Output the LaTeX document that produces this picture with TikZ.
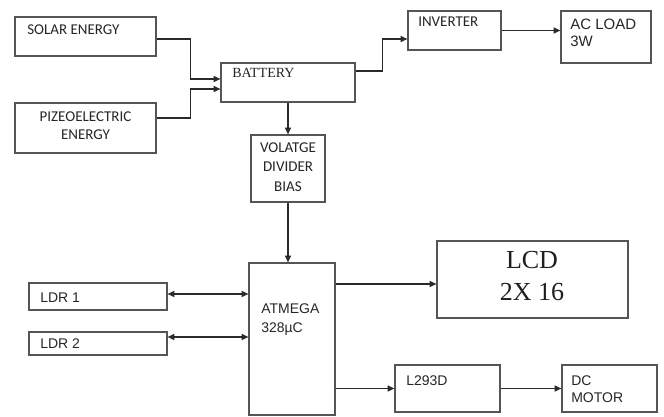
\documentclass[tikz,border=0pt]{standalone}
\usepackage{fontspec}
\setmainfont{Liberation Serif}
\newfontfamily\calfont{Carlito}
\newfontfamily\arifont{Liberation Sans}
\usetikzlibrary{arrows.meta,fit}
\definecolor{boxgray}{HTML}{555555}
\definecolor{txtgray}{HTML}{262626}
\definecolor{linegray}{HTML}{2A2A2A}
\begin{document}
\begin{tikzpicture}[x=0.75pt,y=-0.75pt,
  box/.style={draw=boxgray,line width=0.95pt,inner sep=0pt,fill=white},
  arr/.style={draw=linegray,line width=0.8pt,-{Triangle[length=5pt,width=4.5pt]}},
  darr/.style={draw=linegray,line width=0.8pt,{Triangle[length=5pt,width=4.5pt]}-{Triangle[length=5pt,width=4.5pt]}},
  cal/.style={font=\calfont\fontsize{11.25}{13}\selectfont,text=txtgray,inner sep=0pt},
  ari/.style={font=\arifont\fontsize{10.5}{12}\selectfont,text=txtgray,inner sep=0pt},
  arib/.style={font=\arifont\fontsize{11.25}{13}\selectfont,text=txtgray,inner sep=0pt},
  tms/.style={font=\fontsize{10.5}{12}\selectfont,text=txtgray,inner sep=0pt},
  tmsb/.style={font=\fontsize{19.5}{22}\selectfont,text=black!88,inner sep=0pt}]
\fill[white] (0,0) rectangle (664,417);
\useasboundingbox (0,0) rectangle (664,417);
% boxes
\node[box,fit={(15,17) (156,56)}] (solar) {};
\node[box,fit={(15,103) (156,153)}] (pizeo) {};
\node[box,fit={(221,63) (355,102)}] (battery) {};
\node[box,fit={(251,135) (325,202)}] (volt) {};
\node[box,fit={(249,263) (335,415)}] (atmega) {};
\node[box,fit={(29,283) (167,310)}] (ldr1) {};
\node[box,fit={(29,332) (167,355)}] (ldr2) {};
\node[box,fit={(408,11) (501,50)}] (inverter) {};
\node[box,fit={(561,11) (651,63)}] (acload) {};
\node[box,fit={(437,241) (628,318)}] (lcd) {};
\node[box,fit={(395,365) (500,412)}] (l293) {};
\node[box,fit={(562,365) (657,412)}] (dc) {};
% texts
\node[cal,anchor=base west] (tsolar) at (27,35) {SOLAR ENERGY};
\node[cal,anchor=base] (tpz1) at (85.5,122) {PIZEOELECTRIC};
\node[cal,anchor=base] (tpz2) at (85.5,140) {ENERGY};
\node[tms,anchor=base west] (tbat) at (232,78) {BATTERY};
\node[cal,anchor=base] (tv1) at (288,153) {VOLATGE};
\node[cal,anchor=base] (tv2) at (288,172) {DIVIDER};
\node[cal,anchor=base] (tv3) at (288,192) {BIAS};
\node[cal,anchor=base west] (tinv) at (418,27) {INVERTER};
\node[arib,anchor=base west] (tac1) at (570,30) {AC LOAD};
\node[arib,anchor=base west] (tac2) at (570,47) {3W};
\node[tmsb,anchor=base] (tlcd1) at (532,268) {LCD};
\node[tmsb,anchor=base] (tlcd2) at (532,300) {2X 16};
\node[ari,anchor=base west] (tat1) at (261,313) {ATMEGA};
\node[ari,anchor=base west] (tat2) at (261,332) {328µC};
\node[ari,anchor=base west] (tldr1) at (40,302) {LDR 1};
\node[ari,anchor=base west] (tldr2) at (40,348) {LDR 2};
\node[ari,anchor=base west] (tl293) at (406,385) {L293D};
\node[ari,anchor=base west] (tdc1) at (571,385) {DC};
\node[ari,anchor=base west] (tdc2) at (571,402) {MOTOR};
% helper levels
\coordinate (y79) at (0,79);
\coordinate (y89) at (0,89);
\coordinate (y118) at (0,118);
\coordinate (y39) at (0,39);
\coordinate (y71) at (0,71);
\coordinate (y294) at (0,294);
\coordinate (y337) at (0,337);
\coordinate (y284) at (0,284);
% connectors
\draw[arr] (solar.east |- y39) -- ++(34,0) |- (battery.west |- y79);
\draw[arr] (pizeo.east |- y118) -- ++(34,0) |- (battery.west |- y89);
\draw[arr] (battery.south) -- (volt.north);
\draw[arr] (volt.south) -- (volt.south |- atmega.north);
\draw[arr] (battery.east |- y71) -- ++(27,0) |- (inverter.west |- y39);
\draw[arr] (inverter.east) -- (acload.west |- inverter.east);
\draw[darr] (ldr1.east |- y294) -- (atmega.west |- y294);
\draw[darr] (ldr2.east |- y337) -- (atmega.west |- y337);
\draw[arr] (atmega.east |- y284) -- (lcd.west |- y284);
\draw[arr] (atmega.east |- l293.west) -- (l293.west);
\draw[arr] (l293.east) -- (dc.west);
\end{tikzpicture}
\end{document}
